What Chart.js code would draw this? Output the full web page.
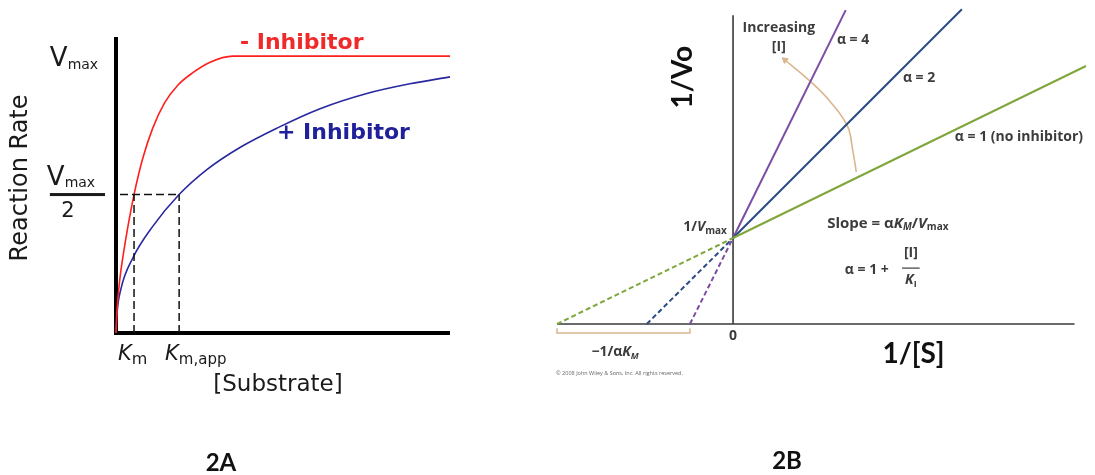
<!DOCTYPE html>
<html>
<head>
<meta charset="utf-8">
<script src="https://cdn.jsdelivr.net/npm/chart.js@4.4.0/dist/chart.umd.min.js"></script>
<style>
    html, body { margin: 0; padding: 0; background: #fff; }
    #wrap { position: relative; width: 1095px; height: 475px; overflow: hidden; }
    canvas { position: absolute; top: 0; }
    #left-canvas { left: 0; }
    #right-canvas { left: 540px; }
    .panel-tag {
        position: absolute;
        font: bold 24px Lato, "Open Sans", sans-serif;
        color: #111;
        transform: translate(-50%, -50%);
    }
</style>
</head>
<body>
<div id="wrap">
    <canvas id="left-canvas" width="540" height="475"></canvas>
    <canvas id="right-canvas" width="555" height="475"></canvas>
    <div class="panel-tag" style="left:221px;top:461px">2A</div>
    <div class="panel-tag" style="left:787px;top:459px">2B</div>
</div>
<script>
/*
    2A: rate vs [S] with / without inhibitor
    2B: Lineweaver-Burk plot for competitive inhibition
*/

// ---- Data 2A ----
const substrateNoInhib = [0, 0.02, 0.06, 0.12, 0.22, 0.35, 0.54, 0.80, 1.10, 1.45, 1.85, 2.30, 2.80, 3.50, 10.0];
const rateNoInhib      = [0, 0.06, 0.13, 0.20, 0.285, 0.38, 0.50, 0.63, 0.74, 0.83, 0.895, 0.94, 0.977, 1.00, 1.00];
const substrateInhib   = [0, 0.03, 0.15, 0.50, 1.10, 1.89, 2.72, 3.71, 4.82, 6.11, 7.51, 8.80, 10.0];
const rateInhib        = [0, 0.07, 0.16, 0.27, 0.385, 0.50, 0.59, 0.67, 0.74, 0.81, 0.865, 0.90, 0.925];
const kmValues = [0.54, 1.89];      // Km, Km,app
const halfVmax = 0.5;
const vmax = 1;

// ---- Data 2B ----
const alphaLabels  = ['α = 1 (no inhibitor)', 'α = 2', 'α = 4'];
const xIntercepts  = [-2, -0.98, -0.49];   // -1/αKM
const lineEndX     = [4.01, 2.60, 1.28];
const lineEndY     = [3.00, 3.66, 3.65];
const invVmax = 1;
const arcX = [1.40, 1.36, 1.30, 1.10, 0.89, 0.59];
const arcY = [1.77, 2.02, 2.30, 2.59, 2.81, 3.07];

// Colores
const colors = {
    red: '#ff1f1f',
    redText: '#f02a2a',
    blue: '#2828a0',
    blueText: '#20209a',
    lines: ['#7fa63b', '#2b4b85', '#7c4ea3'],
    tan: '#d9b68e',
    axis: '#3a3a3a',
    text: '#3c3c3c'
};

const zip = (xs, ys) => xs.map((x, i) => ({ x, y: ys[i] }));

// draws a run of text pieces (for subscripts / italics)
const drawRuns = (ctx, runs, x, y, align) => {
    let total = 0;
    runs.forEach(r => { ctx.font = r.font; total += ctx.measureText(r.t).width; });
    let cx = align === 'right' ? x - total : align === 'center' ? x - total / 2 : x;
    ctx.textAlign = 'left';
    runs.forEach(r => {
        ctx.font = r.font;
        ctx.fillText(r.t, cx, y + (r.dy || 0));
        cx += ctx.measureText(r.t).width;
    });
};

const baseOptions = (padding, xr, yr) => ({
    responsive: false,
    animation: false,
    devicePixelRatio: 1,
    layout: { padding },
    plugins: { legend: { display: false }, tooltip: { enabled: false } },
    scales: {
        x: { type: 'linear', min: xr[0], max: xr[1], display: false },
        y: { type: 'linear', min: yr[0], max: yr[1], display: false }
    },
    elements: { point: { radius: 0 } }
});

// ================= 2A =================
const DV = '"DejaVu Sans", Verdana, sans-serif';

const leftDecor = {
    id: 'leftDecor',
    beforeDatasetsDraw(chart) {
        const { ctx, chartArea } = chart;
        const xs = chart.scales.x, ys = chart.scales.y;
        const x0 = xs.getPixelForValue(0), y0 = ys.getPixelForValue(0);
        ctx.save();
        ctx.strokeStyle = '#000';
        ctx.lineWidth = 4;
        ctx.beginPath();
        ctx.moveTo(x0, chartArea.top);
        ctx.lineTo(x0, y0 + 2);
        ctx.moveTo(x0 - 2, y0);
        ctx.lineTo(chartArea.right, y0);
        ctx.stroke();
        ctx.restore();
    },
    afterDraw(chart) {
        const { ctx } = chart;
        const px = v => chart.scales.x.getPixelForValue(v);
        const py = v => chart.scales.y.getPixelForValue(v);
        ctx.save();
        ctx.textBaseline = 'middle';

        ctx.fillStyle = colors.redText;
        ctx.font = 'bold 22px ' + DV;
        ctx.textAlign = 'left';
        ctx.fillText('- Inhibitor', px(3.71), py(1.047));

        ctx.fillStyle = colors.blueText;
        ctx.fillText('+ Inhibitor', px(4.82), py(0.722));

        ctx.fillStyle = '#1a1a1a';
        // axis title
        ctx.save();
        ctx.translate(px(-2.84), py(0.56));
        ctx.rotate(-Math.PI / 2);
        ctx.textAlign = 'center';
        ctx.font = '24px ' + DV;
        ctx.fillText('Reaction Rate', 0, 0);
        ctx.restore();

        ctx.textBaseline = 'alphabetic';
        // Vmax
        drawRuns(ctx, [
            { t: 'V', font: '26px ' + DV },
            { t: 'max', font: '14px ' + DV, dy: 3 }
        ], px(-1.98), py(vmax) + 10);

        // Vmax / 2
        const yh = py(halfVmax);
        drawRuns(ctx, [
            { t: 'V', font: '26px ' + DV },
            { t: 'max', font: '14px ' + DV, dy: 2 }
        ], px(-2.07), yh - 10);
        ctx.fillRect(px(-1.98), yh - 1.5, px(-0.33) - px(-1.98), 3);
        ctx.font = '21px ' + DV;
        ctx.textAlign = 'center';
        ctx.fillText('2', px(-1.44), yh + 22);

        // Km labels
        drawRuns(ctx, [
            { t: 'K', font: 'italic 21px ' + DV },
            { t: 'm', font: '16px ' + DV, dy: 4 }
        ], px(0.06), py(0) + 27);
        drawRuns(ctx, [
            { t: 'K', font: 'italic 21px ' + DV },
            { t: 'm,app', font: '15px ' + DV, dy: 4 }
        ], px(1.47), py(0) + 27);

        ctx.textBaseline = 'middle';
        ctx.textAlign = 'center';
        ctx.font = '23px ' + DV;
        ctx.fillText('[Substrate]', px(4.85), py(-0.188));
        ctx.restore();
    }
};

const dashed = (pts) => ({
    data: pts,
    showLine: true,
    borderColor: '#111',
    borderWidth: 1.5,
    borderDash: [8, 4],
    pointRadius: 0,
    clip: false
});

new Chart(document.getElementById('left-canvas'), {
    type: 'scatter',
    data: {
        datasets: [
            dashed([{ x: 0.12, y: halfVmax }, { x: kmValues[1], y: halfVmax }]),
            dashed([{ x: kmValues[0], y: 0 }, { x: kmValues[0], y: halfVmax }]),
            dashed([{ x: kmValues[1], y: 0 }, { x: kmValues[1], y: halfVmax }]),
            {
                label: '- Inhibitor',
                data: zip(substrateNoInhib, rateNoInhib),
                showLine: true,
                borderColor: colors.red,
                borderWidth: 1.6,
                cubicInterpolationMode: 'monotone',
                pointRadius: 0,
                clip: false
            },
            {
                label: '+ Inhibitor',
                data: zip(substrateInhib, rateInhib),
                showLine: true,
                borderColor: colors.blue,
                borderWidth: 1.6,
                cubicInterpolationMode: 'monotone',
                pointRadius: 0,
                clip: false
            }
        ]
    },
    options: baseOptions({ left: 116, right: 90, top: 37, bottom: 142 }, [0, 10], [0, 1.069]),
    plugins: [leftDecor]
});

// ================= 2B =================
const OS = '"Open Sans", "Noto Sans", sans-serif';

const rightDecor = {
    id: 'rightDecor',
    beforeDatasetsDraw(chart) {
        const { ctx } = chart;
        const px = v => chart.scales.x.getPixelForValue(v);
        const py = v => chart.scales.y.getPixelForValue(v);
        ctx.save();
        ctx.strokeStyle = colors.axis;
        ctx.lineWidth = 1.6;
        ctx.beginPath();
        ctx.moveTo(px(0), py(3.59));
        ctx.lineTo(px(0), py(0));
        ctx.moveTo(px(xIntercepts[0]), py(0));
        ctx.lineTo(px(3.88), py(0));
        ctx.stroke();

        // bracket under -1/aKM
        ctx.strokeStyle = colors.tan;
        ctx.lineWidth = 1.5;
        ctx.beginPath();
        ctx.moveTo(px(xIntercepts[0]), py(-0.05));
        ctx.lineTo(px(xIntercepts[0]), py(-0.105));
        ctx.lineTo(px(xIntercepts[2]), py(-0.105));
        ctx.lineTo(px(xIntercepts[2]), py(-0.05));
        ctx.stroke();
        ctx.restore();
    },
    afterDraw(chart) {
        const { ctx } = chart;
        const px = v => chart.scales.x.getPixelForValue(v);
        const py = v => chart.scales.y.getPixelForValue(v);
        const b = s => 'bold ' + s + 'px ' + OS;
        const bi = s => 'italic bold ' + s + 'px ' + OS;
        ctx.save();
        ctx.fillStyle = colors.text;
        ctx.textBaseline = 'middle';

        ctx.textAlign = 'center';
        ctx.font = b(14);
        ctx.fillText('Increasing', px(0.52), py(3.44));
        ctx.fillText('[I]', px(0.52), py(3.22));

        ctx.textAlign = 'left';
        ctx.font = b(14);
        ctx.fillText(alphaLabels[2], px(1.18), py(3.30));
        ctx.fillText(alphaLabels[1], px(1.93), py(2.86));
        ctx.fillText(alphaLabels[0], px(2.52), py(2.17));

        drawRuns(ctx, [
            { t: '1/', font: b(14) },
            { t: 'V', font: bi(14) },
            { t: 'max', font: b(10), dy: 4 }
        ], px(-0.07), py(invVmax + 0.13), 'right');

        drawRuns(ctx, [
            { t: 'Slope = α', font: b(15) },
            { t: 'K', font: bi(15) },
            { t: 'M', font: bi(10), dy: 4 },
            { t: '/', font: b(15) },
            { t: 'V', font: bi(15) },
            { t: 'max', font: b(10), dy: 4 }
        ], px(1.07), py(1.17));

        ctx.font = b(14);
        ctx.textAlign = 'left';
        ctx.fillText('α = 1 +', px(1.27), py(0.63));
        ctx.textAlign = 'center';
        ctx.fillText('[I]', px(2.02), py(0.83));
        ctx.fillRect(px(1.92), py(0.65) - 0.6, px(2.12) - px(1.92), 1.2);
        drawRuns(ctx, [
            { t: 'K', font: bi(14) },
            { t: 'I', font: b(9), dy: 4 }
        ], px(2.02), py(0.51), 'center');

        ctx.textAlign = 'center';
        ctx.font = b(14);
        ctx.fillText('0', px(0), py(-0.14));

        drawRuns(ctx, [
            { t: '−1/α', font: b(14) },
            { t: 'K', font: bi(14) },
            { t: 'M', font: bi(9), dy: 4 }
        ], px(-1.34), py(-0.33), 'center');

        ctx.fillStyle = '#666';
        ctx.textAlign = 'left';
        ctx.font = '5.5px ' + OS;
        ctx.fillText('© 2008 John Wiley & Sons, Inc. All rights reserved.', px(-2.01), py(-0.57));

        ctx.fillStyle = '#111';
        ctx.textAlign = 'center';
        ctx.font = 'bold 28px Lato, ' + OS;
        ctx.fillText('1/[S]', px(2.05), py(-0.35));

        ctx.save();
        ctx.translate(px(-0.57), py(2.87));
        ctx.rotate(-Math.PI / 2);
        ctx.fillText('1/Vo', 0, 0);
        ctx.restore();

        ctx.restore();
    }
};

const rightSets = [];
// dashed extrapolations
xIntercepts.forEach((xi, i) => {
    rightSets.push({
        data: [{ x: xi, y: 0 }, { x: 0, y: invVmax }],
        showLine: true,
        borderColor: colors.lines[i],
        borderWidth: 2,
        borderDash: [5, 3],
        pointRadius: 0,
        clip: false
    });
});
// solid lines
lineEndX.forEach((xe, i) => {
    rightSets.push({
        label: alphaLabels[i],
        data: [{ x: 0, y: invVmax }, { x: xe, y: lineEndY[i] }],
        showLine: true,
        borderColor: colors.lines[i],
        borderWidth: 2,
        pointRadius: 0,
        clip: false
    });
});
// curved arrow
rightSets.push({
    data: zip(arcX, arcY),
    showLine: true,
    borderColor: colors.tan,
    borderWidth: 1.6,
    tension: 0.4,
    pointRadius: 0,
    clip: false
});
rightSets.push({
    data: [{ x: arcX[arcX.length - 1], y: arcY[arcY.length - 1] }],
    pointStyle: 'triangle',
    pointRadius: 3.5,
    rotation: -52,
    backgroundColor: colors.tan,
    borderColor: colors.tan,
    clip: false
});

new Chart(document.getElementById('right-canvas'), {
    type: 'scatter',
    data: { datasets: rightSets },
    options: baseOptions({ left: 17, right: 9, top: 9, bottom: 151 }, [-2, 4.01], [0, 3.663]),
    plugins: [rightDecor]
});
</script>
</body>
</html>
